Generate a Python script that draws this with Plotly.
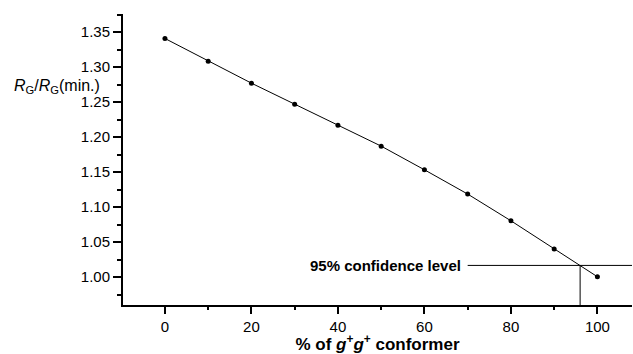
import plotly.graph_objects as go

pct = [0, 10, 20, 30, 40, 50, 60, 70, 80, 90, 100]
ratio = [1.341, 1.3086, 1.2771, 1.2471, 1.2171, 1.1871, 1.1533, 1.1186, 1.0804, 1.040, 1.0004]

conf_level = 1.0166
conf_x = 96
conf_text_x = 70

x_range = [-9.7, 108]
y_range = [0.96, 1.376]

FONT = "Liberation Sans, Arial, sans-serif"

fig = go.Figure()
fig.add_trace(go.Scatter(
    x=pct, y=ratio, mode="lines+markers",
    line=dict(color="black", width=1),
    marker=dict(color="black", size=5),
    showlegend=False, hoverinfo="skip"))

fig.add_shape(type="line", xref="x", yref="y", x0=conf_text_x, x1=x_range[1],
              y0=conf_level, y1=conf_level, line=dict(color="black", width=1))
fig.add_shape(type="line", xref="x", yref="y", x0=conf_x, x1=conf_x,
              y0=y_range[0], y1=conf_level, line=dict(color="black", width=1))

fig.add_annotation(x=conf_text_x - 1, y=conf_level, xref="x", yref="y",
                   text="<b>95% confidence level</b>", showarrow=False, xanchor="right",
                   yanchor="middle", font=dict(family=FONT, size=15, color="black"))

plot_w = 633 - 123 - 1
plot_h = 354 - 14 - 49
fig.add_annotation(x=(12 - 123) / plot_w, y=1 - (86 - 14) / plot_h, xref="paper", yref="paper",
                   text="<i>R</i><sub>G</sub>/<i>R</i><sub>G</sub>(min.)",
                   showarrow=False, xanchor="left", yanchor="middle",
                   font=dict(family=FONT, size=16, color="black"))

fig.update_layout(
    width=633, height=354,
    margin=dict(l=123, r=1, t=14, b=49),
    paper_bgcolor="white", plot_bgcolor="white",
    font=dict(family=FONT, color="black"),
    xaxis=dict(range=x_range, showgrid=False, zeroline=False, showline=True,
               linecolor="black", linewidth=2, ticks="outside", ticklen=7,
               tickwidth=1.5, tickcolor="black", tick0=0, dtick=20,
               tickfont=dict(size=15),
               minor=dict(ticks="outside", ticklen=3, tickwidth=1.5,
                          tickcolor="black", dtick=10, tick0=0, showgrid=False),
               title=dict(text="<b>% of <i>g</i><sup>+</sup><i>g</i><sup>+</sup> conformer</b>",
                          font=dict(size=17), standoff=5)),
    yaxis=dict(range=y_range, showgrid=False, zeroline=False, showline=True,
               linecolor="black", linewidth=2, ticks="outside", ticklen=8,
               tickwidth=1.5, tickcolor="black", tick0=1.0, dtick=0.05,
               tickformat=".2f", tickfont=dict(size=15),
               minor=dict(ticks="outside", ticklen=4, tickwidth=1.5,
                          tickcolor="black", dtick=0.025, tick0=1.0, showgrid=False)),
)

fig.write_html("out.html")
